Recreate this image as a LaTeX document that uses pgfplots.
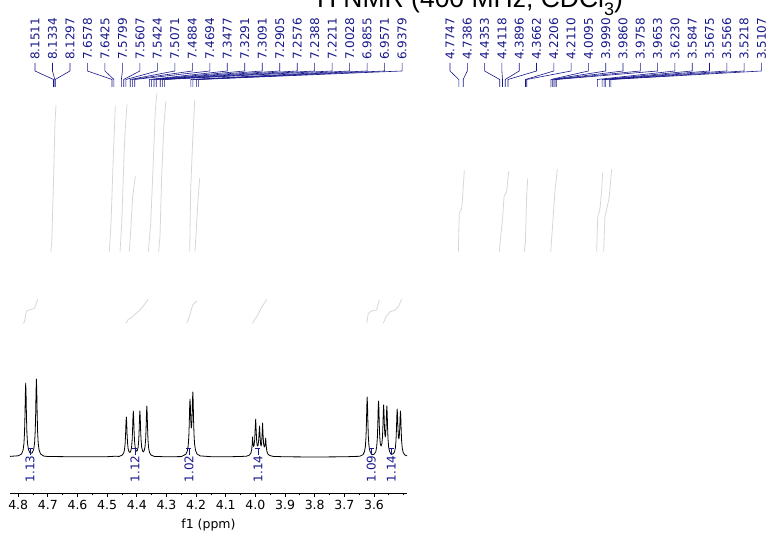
\documentclass[border=0pt]{standalone}
\usepackage{pgfplots}
\pgfplotsset{compat=1.18}
\usepackage{fontspec}
\setmainfont{DejaVu Sans}
\newfontfamily\titlefont{Liberation Sans}
\definecolor{lblue}{RGB}{24,24,140}
\definecolor{igray}{RGB}{215,215,215}
\begin{document}
\begin{tikzpicture}
\path[use as bounding box] (0,0) rectangle (768pt,534pt);

% ---------- full-spectrum scale (integral curves of the whole spectrum) ----------
\begin{axis}[at={(0pt,0pt)}, anchor=south west, scale only axis,
  width=768pt, height=534pt, hide axis, x dir=reverse,
  xmin=2.2048, xmax=8.5889, ymin=0, ymax=534, clip=false]
\addplot[igray, line width=0.8pt] coordinates {(8.167,282.3) (8.159,290.7) (8.146,344) (8.132,410.7) (8.123,429)};
\addplot[igray, line width=0.8pt] coordinates {(7.680,282.3) (7.666,310.7) (7.647,377.3) (7.630,428.3)};
\addplot[igray, line width=0.8pt] coordinates {(7.591,282.3) (7.577,310.7) (7.558,377.3) (7.550,400.7) (7.533,429.7)};
\addplot[igray, line width=0.8pt] coordinates {(7.514,282.3) (7.502,304) (7.486,337.3) (7.464,358)};
\addplot[igray, line width=0.8pt] coordinates {(7.356,282.3) (7.336,310.7) (7.315,370.7) (7.298,424) (7.284,440.7)};
\addplot[igray, line width=0.8pt] coordinates {(7.270,282.3) (7.259,297.3) (7.245,357.3) (7.226,410.7) (7.209,433)};
\addplot[igray, line width=0.8pt] coordinates {(7.012,282.3) (7.004,344) (6.987,394) (6.970,434)};
\addplot[igray, line width=0.8pt] coordinates {(6.968,282.3) (6.954,310.7) (6.943,334) (6.929,355.7)};
\addplot[igray, line width=0.8pt] coordinates {(4.779,282.3) (4.771,320.7) (4.751,325.7) (4.743,337.3) (4.729,364)};
\addplot[igray, line width=0.8pt] coordinates {(4.438,282.3) (4.427,297.3) (4.410,317.3) (4.399,337.3) (4.377,342.3) (4.360,363)};
\addplot[igray, line width=0.8pt] coordinates {(4.231,282.3) (4.222,290.7) (4.211,337.3) (4.202,355.7)};
\addplot[igray, line width=0.8pt] coordinates {(4.011,282.3) (3.998,304) (3.975,344) (3.956,365)};
\addplot[igray, line width=0.8pt] coordinates {(3.629,282.3) (3.620,317.3) (3.601,325.7) (3.587,344) (3.579,361.3)};
\addplot[igray, line width=0.8pt] coordinates {(3.571,282.3) (3.560,317.3) (3.541,327.3) (3.524,337.3) (3.504,365)};
\end{axis}

% ---------- inset: 4.83 - 3.49 ppm ----------
\begin{axis}[at={(10pt,41pt)}, anchor=south west, scale only axis,
  width=397pt, height=493pt, x dir=reverse,
  xmin=3.4887, xmax=4.8277, ymin=-36, ymax=457,
  axis x line*=bottom, axis y line=none, ytick=\empty,
  axis line style={black, line width=0.8pt, -},
  xtick={3.6,3.7,3.8,3.9,4.0,4.1,4.2,4.3,4.4,4.5,4.6,4.7,4.8},
  minor xtick={3.5,3.55,3.65,3.75,3.85,3.95,4.05,4.15,4.25,4.35,4.45,4.55,4.65,4.75},
  tick align=outside, major tick length=4pt, minor tick length=2.5pt,
  tick style={black, line width=0.8pt},
  xticklabel style={font=\fontsize{12.5}{14}\selectfont},
  /pgf/number format/.cd, fixed, fixed zerofill, precision=1, assume math mode=true,
  /pgfplots/.cd,
  xlabel={f1 (ppm)}, xlabel style={font=\fontsize{12.5}{14}\selectfont, yshift=-2pt},
  clip=false]
% spectrum
\addplot[black, line width=0.8pt, line join=round] coordinates {
(4.8277,0.6) (4.81,1.0) (4.7997,1.2) (4.7887,3.0) (4.7837,6.7) (4.7807,13.3) (4.7787,24.4) (4.7772,41.4) (4.7759,62.9) (4.7747,74)
(4.7735,62.9) (4.7722,41.4) (4.7707,24.4) (4.7687,13.9) (4.7657,7.7) (4.7607,4.2) (4.7567,3.7) (4.7526,4.3) (4.7476,7.8) (4.7446,14.6)
(4.7426,25.7) (4.7411,43.7) (4.7398,66.3) (4.7386,78) (4.7374,66.3) (4.7361,43.7) (4.7346,25.7) (4.7326,14.0) (4.7296,7.0) (4.7246,3.1)
(4.7136,0.9) (4.70,0.5) (4.60,0.2) (4.50,0.3) (4.47,0.8)
(4.4603,0.5) (4.4493,1.9) (4.4443,4.0) (4.4413,7.6) (4.4393,13.7) (4.4378,22.9) (4.4365,34.5) (4.4353,40) (4.4341,34.5) (4.4328,23)
(4.4313,14.5) (4.4293,8.4) (4.4263,5.3) (4.4235,4.5) (4.4208,5.6) (4.4178,9.3) (4.4158,16.5) (4.4143,26.8) (4.4130,40) (4.4118,46)
(4.4106,40) (4.4093,26.8) (4.4078,16.5) (4.4058,10.1) (4.4028,6.3) (4.4007,5.8) (4.3986,6.3) (4.3956,9.5) (4.3936,16.2) (4.3921,26.5)
(4.3908,39.7) (4.3896,46) (4.3884,39.7) (4.3871,26.5) (4.3856,16.8) (4.3836,9.8) (4.3806,6.1) (4.3779,5.1) (4.3752,6.4) (4.3722,10.3)
(4.3702,17.6) (4.3687,28.6) (4.3674,43.4) (4.3662,51) (4.3650,43.4) (4.3637,28.6) (4.3622,16.8) (4.3602,9.2) (4.3572,4.6) (4.3522,2.0)
(4.3412,0.6) (4.30,0.2) (4.25,0.4)
(4.2456,1.0) (4.2346,2.8) (4.2296,6.0) (4.2266,11.4) (4.2246,20.1) (4.2231,33.0) (4.2218,49.2) (4.2206,58) (4.2194,51.5) (4.2181,38.1)
(4.2170,31.0) (4.2158,29.0) (4.2146,32.5) (4.2135,41.0) (4.2122,57.0) (4.2110,65) (4.2098,55.0) (4.2085,36.5) (4.2070,22.2) (4.2050,12.5)
(4.2020,6.7) (4.1970,3.0) (4.1860,1.1) (4.15,0.3) (4.10,0.2) (4.05,0.5)
(4.030,0.8) (4.020,2.0) (4.015,4.0) (4.0125,7.5) (4.011,12) (4.0095,20) (4.008,13.5) (4.0062,10.5) (4.0045,11.5) (4.0025,17)
(4.0008,28) (3.9990,38) (3.9975,27) (3.9955,15) (3.9935,11) (3.9912,11.5) (3.9892,16) (3.9875,24) (3.9860,31) (3.9845,22)
(3.9825,13) (3.9808,11) (3.9790,14) (3.9773,23) (3.9758,34) (3.9743,23) (3.9723,13) (3.9700,10) (3.9680,11) (3.9665,15)
(3.9653,19) (3.9638,12) (3.9615,6) (3.958,3) (3.952,1.5) (3.94,0.6) (3.90,0.2) (3.80,0) (3.70,0.2) (3.66,0.6)
(3.648,0.7) (3.637,2.4) (3.632,5.4) (3.629,10.8) (3.627,19.8) (3.6255,33.6) (3.6242,51) (3.6230,60) (3.6218,51) (3.6205,33.6)
(3.619,19.8) (3.617,11.2) (3.614,6.0) (3.609,3.1) (3.6039,2.3) (3.5987,3.0) (3.5937,5.5) (3.5907,10.8) (3.5887,19.2) (3.5872,32.0)
(3.5859,48.6) (3.5847,56) (3.5835,49) (3.5822,32.7) (3.5807,20.4) (3.5787,12.9) (3.5760,10.9) (3.5735,13.2) (3.5715,19.6) (3.5700,30.4)
(3.5687,44.5) (3.5675,52) (3.5663,45) (3.5650,32) (3.5635,23) (3.5620,20) (3.5605,22.9) (3.5591,31.5) (3.5578,44.4) (3.5566,51)
(3.5554,43.2) (3.5541,28.7) (3.5526,17.4) (3.5506,9.9) (3.5476,5.7) (3.5426,2.6) (3.5392,2.8) (3.5358,3.2) (3.5308,4.9) (3.5278,9.3)
(3.5258,16.4) (3.5243,27.1) (3.5230,40.7) (3.5218,48) (3.5206,41.8) (3.5193,29.5) (3.5178,20.8) (3.5163,18.1) (3.5148,20.1) (3.5132,28.5)
(3.5119,40.2) (3.5107,46) (3.5095,39) (3.5082,25.9) (3.5067,15.7) (3.5047,8.9) (3.5017,4.6) (3.4967,2.2) (3.4887,1.1)
};
% integral curves of the inset
\addplot[igray, line width=0.8pt] coordinates {(4.7828,133.7) (4.7790,135) (4.7760,140) (4.7737,144.3) (4.7700,146.5) (4.7600,147.3) (4.7480,148.2) (4.7430,150) (4.7390,154) (4.7342,157.7)};
\addplot[igray, line width=0.8pt] coordinates {(4.4364,133.7) (4.4287,137.7) (4.4172,139.3) (4.4061,142.7) (4.3892,147) (4.3781,151) (4.3612,157.7)};
\addplot[igray, line width=0.8pt] coordinates {(4.2317,133.7) (4.2263,137) (4.2182,145.3) (4.2115,152) (4.1980,156)};
\addplot[igray, line width=0.8pt] coordinates {(4.0104,133.7) (3.9956,140.3) (3.9788,149.7) (3.9619,157.7)};
\addplot[igray, line width=0.8pt] coordinates {(3.6246,133.7) (3.6192,143.7) (3.6077,146) (3.5909,147) (3.5821,157)};
\addplot[igray, line width=0.8pt] coordinates {(3.5686,133.7) (3.5595,140.3) (3.5460,145.3) (3.5292,147) (3.5180,150.3) (3.5066,157.7)};
% integration values
\foreach \xx/\vv in {4.7602/1.13, 4.4061/1.12, 4.2240/1.02, 3.9913/1.14, 3.6094/1.09, 3.5420/1.14}{
  \edef\tmp{\noexpand\node[rotate=90, anchor=east, inner sep=0pt, text=lblue, font=\noexpand\fontsize{12}{14}\noexpand\selectfont] at (axis cs:\xx,1.5) {\vv};
  \noexpand\draw[lblue, line width=0.6pt] (axis cs:\xx,1.5) -- (axis cs:\xx,9);
  \noexpand\draw[lblue, line width=0.6pt] ([xshift=-2.5pt]axis cs:\xx,8.5) -- ([xshift=2.5pt]axis cs:\xx,8.5);}
  \tmp
}
\end{axis}

% ---------- peak labels and title (annotation layer, pixel units) ----------
\begin{scope}[shift={(0pt,534pt)}, x=1pt, y=-1pt]
\foreach \v/\t [count=\i from 0] in {8.1511/53.5, 8.1334/54.8, 8.1297/55.2, 7.6578/112, 7.6425/113.9, 7.5799/121.4, 7.5607/123.7, 7.5424/125.9, 7.5071/130.2, 7.4884/132.4, 7.4694/134.7, 7.3477/149.3, 7.3291/151.6, 7.3091/154, 7.2905/156.2, 7.2576/160.2, 7.2388/162.4, 7.2211/164.6, 7.0028/190.8, 6.9855/192.9, 6.9571/196.3, 6.9379/198.6}{
  \pgfmathsetmacro\p{35+17.48*\i}
  \node[rotate=90, anchor=west, inner sep=0pt, text=lblue, font=\fontsize{12}{14}\selectfont] at (\p,60) {\v};
  \draw[lblue, line width=0.6pt] (\p,63) -- (\p,71) -- (\t,79.5) -- (\t,87);
}
\foreach \v/\t [count=\i from 0] in {4.7747/458.8, 4.7386/463.2, 4.4353/499.7, 4.4118/502.5, 4.3896/505.2, 4.3662/508, 4.2206/525.5, 4.2110/526.7, 4.0095/550.9, 3.9990/552.2, 3.9860/553.8, 3.9758/555.0, 3.9653/556.3, 3.6230/597.4, 3.5847/602.1, 3.5675/604.1, 3.5566/605.4, 3.5218/609.6, 3.5107/610.9}{
  \pgfmathsetmacro\p{450+17.3*\i}
  \node[rotate=90, anchor=west, inner sep=0pt, text=lblue, font=\fontsize{12}{14}\selectfont] at (\p,60) {\v};
  \draw[lblue, line width=0.6pt] (\p,63) -- (\p,71) -- (\t,79.5) -- (\t,87);
}
\node[anchor=base west, inner sep=0pt, font=\titlefont\fontsize{26.5}{30}\selectfont] at (306,8) {\textsuperscript{1}H NMR (400 MHz, CDCl\raisebox{-0.3em}{\fontsize{18}{20}\selectfont 3})};
\end{scope}
\end{tikzpicture}
\end{document}
